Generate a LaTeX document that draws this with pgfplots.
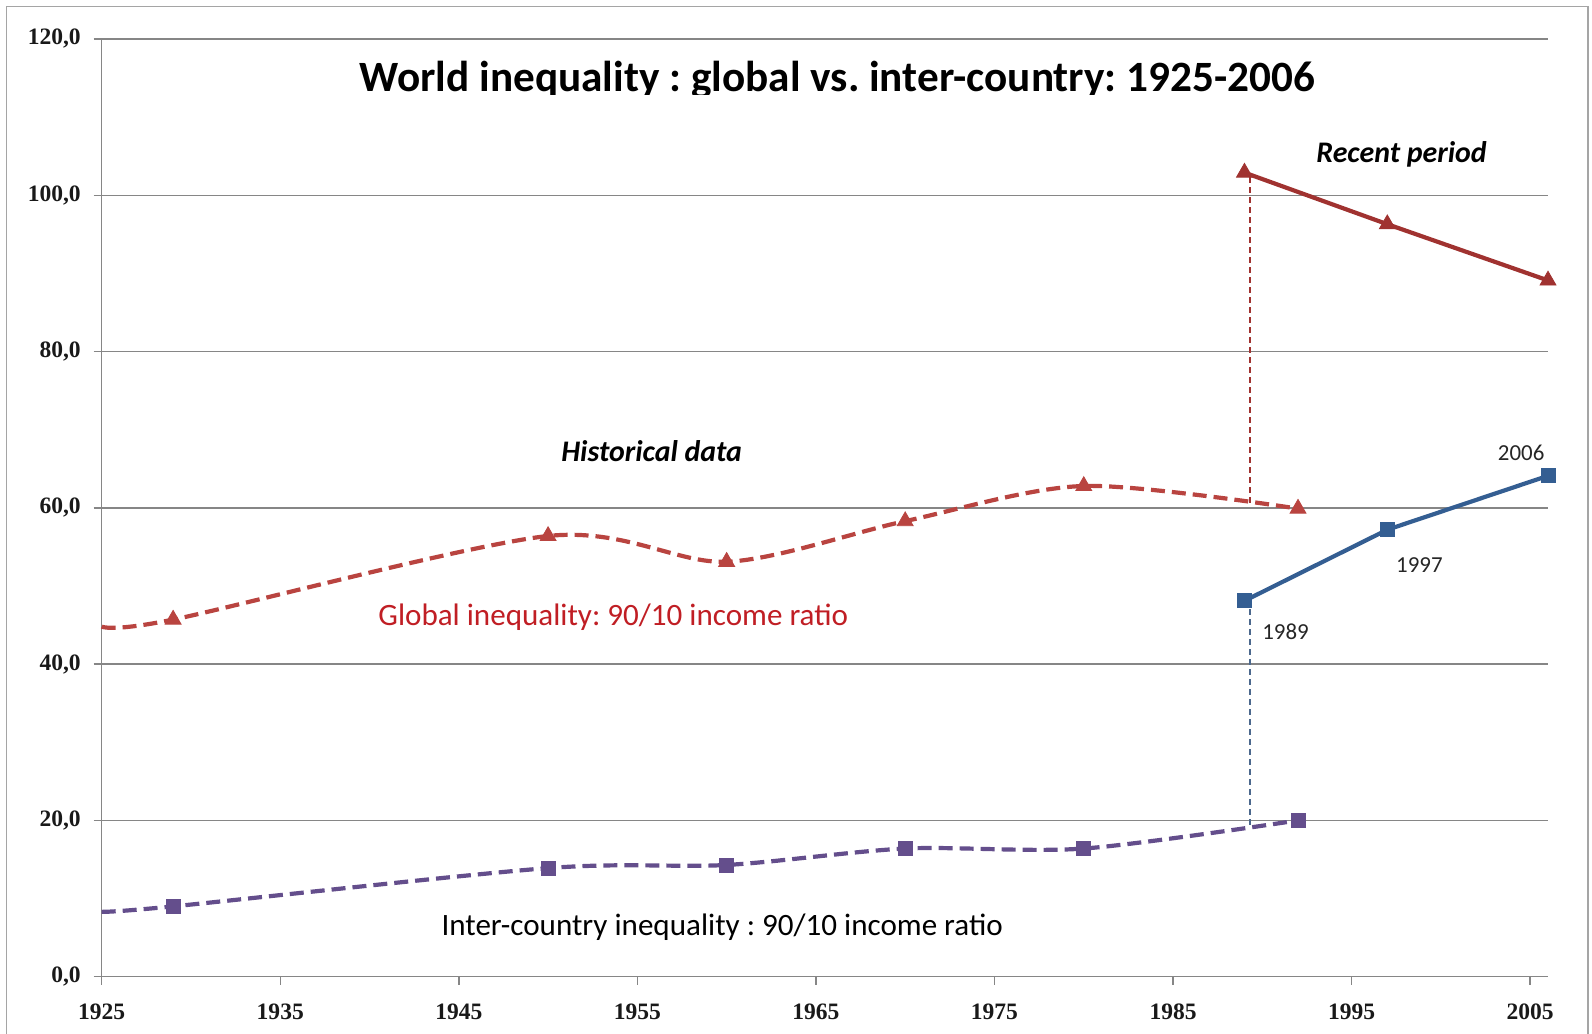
\documentclass[border=0pt]{standalone}
\usepackage{fontspec}
\setmainfont{Carlito}
\newfontfamily\tickfont{Liberation Serif}
\usepackage{pgfplots}
\pgfplotsset{compat=1.18}
\definecolor{gridgray}{RGB}{134,134,134}
\definecolor{framegray}{RGB}{165,165,165}
\definecolor{histred}{RGB}{185,68,64}
\definecolor{recred}{RGB}{160,50,48}
\definecolor{recblue}{RGB}{52,94,146}
\definecolor{histpurple}{RGB}{100,78,140}
\definecolor{labelred}{RGB}{192,30,36}
\begin{document}
\frenchspacing
\begin{tikzpicture}
\useasboundingbox (-50.85bp,-28.65bp) rectangle (745.15bp,488.35bp);
\draw[framegray, line width=0.75bp] (-47.5bp,-40bp) -- (-47.5bp,485bp) -- (743.15bp,485bp) -- (743.15bp,-40bp);
\begin{axis}[
  at={(0,0)}, anchor=south west,
  scale only axis, width=723.15bp, height=468.85bp,
  xmin=1925, xmax=2006, ymin=0, ymax=120,
  axis x line=bottom, axis y line=left,
  axis line style={-, gridgray, line width=0.75bp},
  xtick={1925,1935,...,2005},
  xticklabels={1925,1935,1945,1955,1965,1975,1985,1995,2005},
  ytick={0,20,...,120},
  yticklabels={{0,0},{20,0},{40,0},{60,0},{80,0},{100,0},{120,0}},
  tick align=outside, major tick length=4bp,
  tick style={gridgray, line width=0.75bp},
  ymajorgrids, grid style={gridgray, line width=0.75bp},
  ticklabel style={font=\tickfont\bfseries\fontsize{11.8}{13}\selectfont, text=black!90},
  xticklabel style={yshift=-6bp},
  yticklabel style={xshift=-3bp},
  clip=false,
]
% drop lines
\addplot[recred, line width=0.75bp, dash pattern=on 3bp off 2bp] coordinates {(1989.3,102.3) (1989.3,60.6)};
\addplot[recblue!70!gray, line width=0.75bp, dash pattern=on 3bp off 2bp] coordinates {(1989.3,47) (1989.3,19.4)};
% historical global
\addplot[histred, line width=2.1bp, dash pattern=on 7bp off 3.5bp, smooth, tension=0.5,
  mark=triangle*, mark size=4.6bp, mark options={solid, fill=histred, draw=histred, line width=0.4bp},
  mark indices={2,3,4,5,6,7}]
  coordinates {(1925,44.8) (1929,45.7) (1950,56.4) (1960,53.1) (1970,58.3) (1980,62.8) (1992,59.9)};
% historical inter-country
\addplot[histpurple, line width=2.1bp, dash pattern=on 7bp off 3.5bp, smooth, tension=0.5,
  mark=square*, mark size=3.5bp, mark options={solid, fill=histpurple, draw=histpurple, line width=0.4bp},
  mark indices={2,3,4,5,6,7}]
  coordinates {(1925,8.3) (1929,9.0) (1950,13.9) (1960,14.3) (1970,16.4) (1980,16.4) (1992,20.0)};
% recent global
\addplot[recred, line width=2.1bp, mark=triangle*, mark size=4.6bp,
  mark options={fill=recred, draw=recred, line width=0.4bp}]
  coordinates {(1989,102.9) (1997,96.3) (2006,89.1)};
% recent inter-country
\addplot[recblue, line width=2.1bp, mark=square*, mark size=3.5bp,
  mark options={fill=recblue, draw=recblue, line width=0.4bp}]
  coordinates {(1989,48.1) (1997,57.2) (2006,64.1)};
% labels
\node[font=\fontsize{15}{17}\selectfont\bfseries\itshape] at (axis cs:1955.8,67.2) {Historical data};
\node[font=\fontsize{15}{17}\selectfont\bfseries\itshape] at (axis cs:1997.8,105.2) {Recent period};
\node[font=\fontsize{15.6}{17}\selectfont, text=labelred] at (axis cs:1953.65,46.0) {Global inequality: 90/10 income ratio};
\node[font=\fontsize{15.6}{17}\selectfont] at (axis cs:1959.75,6.36) {Inter-country inequality : 90/10 income ratio};
\node[font=\fontsize{11.5}{13}\selectfont, text=black!85] at (axis cs:2004.5,67.0) {2006};
\node[font=\fontsize{11.5}{13}\selectfont, text=black!85] at (axis cs:1998.8,52.7) {1997};
\node[font=\fontsize{11.5}{13}\selectfont, text=black!85] at (axis cs:1991.3,44.2) {1989};
\begin{scope}
\clip (axis cs:1925,112.9) rectangle (axis cs:2006,119.5);
\node[anchor=base, font=\fontsize{21.7}{24}\selectfont\bfseries] at (axis cs:1966.2,113.3) {World inequality : global vs.\ inter-country: 1925-2006};
\end{scope}
\end{axis}
\end{tikzpicture}
\end{document}
